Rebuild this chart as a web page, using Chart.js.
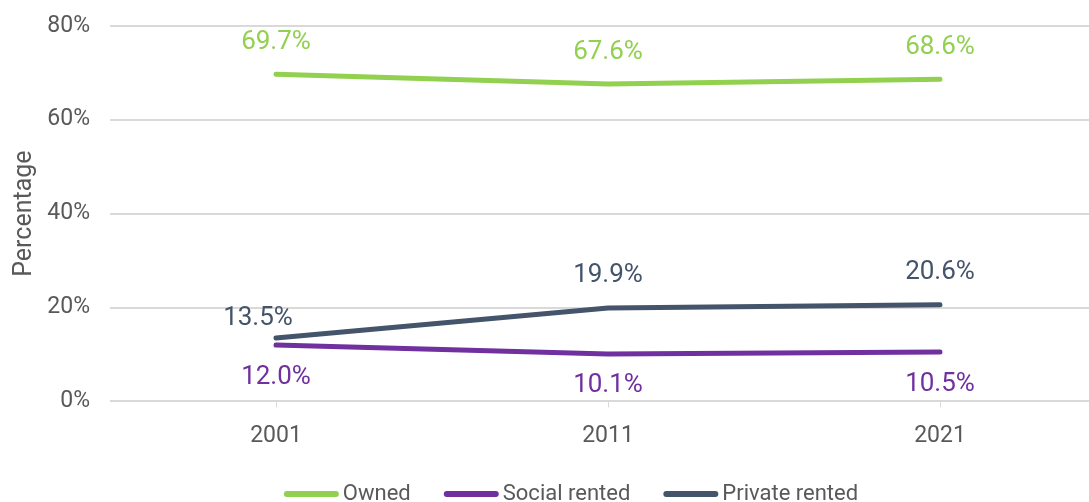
<!DOCTYPE html>
<html>
<head>
<meta charset="utf-8">
<script src="https://cdn.jsdelivr.net/npm/chart.js@4/dist/chart.umd.min.js"></script>
<style>
  html, body { margin: 0; padding: 0; background: #fff; overflow: hidden; }
  #wrap { position: relative; top: -8px; width: 1106px; height: 521px; }
</style>
</head>
<body>
<div id="wrap"><canvas id="tenureChart"></canvas></div>
<script>
const years = ['2001', '2011', '2021'];
const owned = [69.7, 67.6, 68.6];
const socialRented = [12.0, 10.1, 10.5];
const privateRented = [13.5, 19.9, 20.6];
const yTicks = [0, 20, 40, 60, 80];

const FONT = 'Roboto, "Liberation Sans", sans-serif';
const GREEN = '#92d050';
const PURPLE = '#7030a0';
const SLATE = '#44546a';
const TEXT = '#595959';

// value labels above or below each point
const pointLabels = {
  id: 'pointLabels',
  afterDatasetsDraw(chart) {
    const { ctx } = chart;
    ctx.save();
    ctx.font = `26px ${FONT}`;
    ctx.textAlign = 'center';
    ctx.textBaseline = 'middle';
    chart.data.datasets.forEach((ds, i) => {
      const meta = chart.getDatasetMeta(i);
      ctx.fillStyle = ds.borderColor;
      meta.data.forEach((pt, j) => {
        const nudge = (ds.labelNudge && ds.labelNudge[j]) || null;
        const dx = nudge ? nudge[0] : 0;
        const dy = nudge ? nudge[1] : (ds.labelPos === 'below' ? 32 : -32);
        ctx.fillText(ds.data[j].toFixed(1) + '%', pt.x + dx, pt.y + dy);
      });
    });
    ctx.restore();
  },
};

// Excel-style legend: long line swatch, tight text gap, centred under the chart
const lineLegend = {
  id: 'lineLegend',
  afterDraw(chart) {
    const { ctx } = chart;
    const swatch = 55;
    const textGap = 4;
    const itemGap = 33;
    ctx.save();
    ctx.font = `22px ${FONT}`;
    ctx.textBaseline = 'middle';
    const items = chart.data.datasets.map((ds) => ({
      label: ds.label,
      color: ds.borderColor,
      w: swatch + textGap + ctx.measureText(ds.label).width,
    }));
    const total = items.reduce((s, it) => s + it.w, 0) + itemGap * (items.length - 1);
    let x = 571 - total / 2;
    const y = chart.height - 19;
    items.forEach((it) => {
      ctx.strokeStyle = it.color;
      ctx.lineWidth = 6;
      ctx.lineCap = 'round';
      ctx.beginPath();
      ctx.moveTo(x + 3, y);
      ctx.lineTo(x + swatch - 3, y);
      ctx.stroke();
      ctx.fillStyle = TEXT;
      ctx.fillText(it.label, x + swatch + textGap, y);
      x += it.w + itemGap;
    });
    ctx.restore();
  },
};

function lineSet(label, data, color, labelPos, labelNudge) {
  return {
    label,
    data,
    borderColor: color,
    backgroundColor: color,
    borderWidth: 5,
    borderCapStyle: 'round',
    pointRadius: 0,
    tension: 0,
    labelPos,
    labelNudge,
  };
}

new Chart(document.getElementById('tenureChart'), {
  type: 'line',
  data: {
    labels: years,
    datasets: [
      lineSet('Owned', owned, GREEN, 'above'),
      lineSet('Social rented', socialRented, PURPLE, 'below'),
      // first label sits up-left so it clears the purple line
      lineSet('Private rented', privateRented, SLATE, 'above', [[-18, -20]]),
    ],
  },
  options: {
    responsive: true,
    maintainAspectRatio: false,
    animation: false,
    layout: { padding: { top: 0, left: 0, right: 0, bottom: 48 } },
    plugins: {
      legend: { display: false },
      tooltip: { enabled: false },
    },
    scales: {
      x: {
        offset: true,
        grid: { display: true, drawOnChartArea: false, color: '#d9d9d9', tickLength: 6, offset: false },
        border: { display: false },
        ticks: { color: TEXT, font: { family: FONT, size: 23 }, padding: 15 },
      },
      y: {
        min: 0,
        max: 80,
        afterBuildTicks(scale) {
          scale.ticks = yTicks.map((v) => ({ value: v }));
        },
        afterFit(scale) {
          scale.width = 110;
        },
        grid: { color: '#d9d9d9', lineWidth: 2, drawTicks: false },
        border: { display: false },
        ticks: {
          color: TEXT,
          font: { family: FONT, size: 23 },
          padding: 20,
          callback: (v) => v + '%',
        },
        title: {
          display: true,
          text: 'Percentage',
          color: TEXT,
          font: { family: FONT, size: 25 },
          padding: { top: 10, bottom: 0 },
        },
      },
    },
  },
  plugins: [pointLabels, lineLegend],
});
</script>
</body>
</html>
